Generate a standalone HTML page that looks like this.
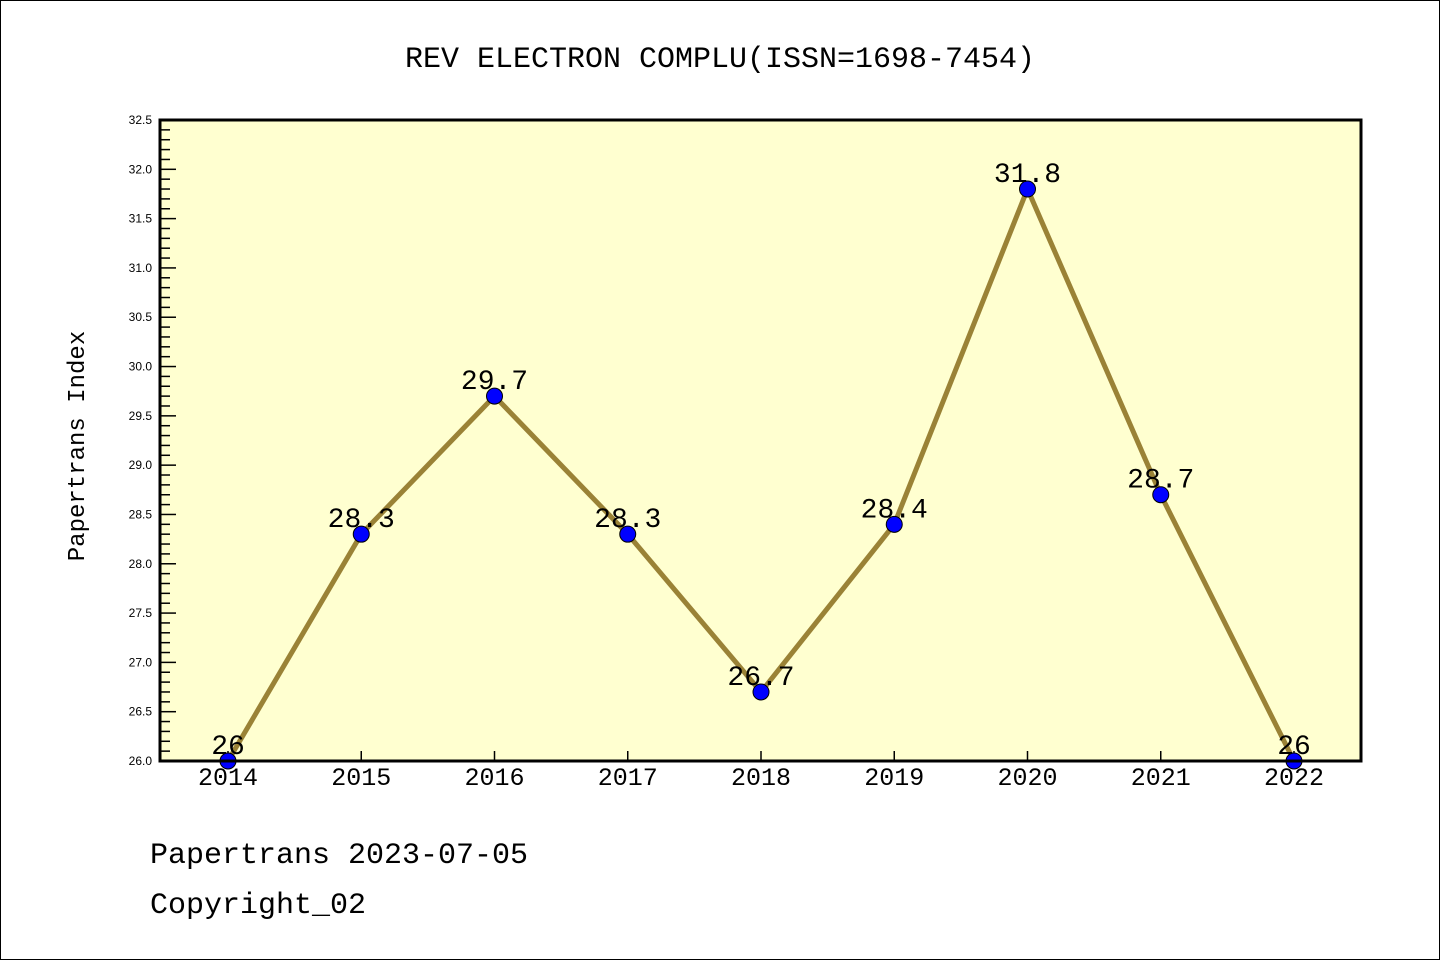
<!DOCTYPE html>
<html><head><meta charset="utf-8"><style>
body{margin:0;background:#fff;}
svg{display:block;font-family:"Liberation Mono","WenQuanYi Zen Hei",monospace;}
</style></head><body>
<svg id="c" width="1440" height="960">
<rect x="0.5" y="0.5" width="1439" height="959" fill="#fff" stroke="#000"/>
<text x="720" y="67" font-size="30" text-anchor="middle">REV ELECTRON COMPLU(ISSN=1698-7454)</text>
<rect x="160" y="120" width="1201" height="641" fill="#ffffd0"/>
<g id="yt"></g><g id="xt"></g><g id="series"></g>
<rect x="160" y="120" width="1201" height="641" fill="none" stroke="#000" stroke-width="3"/>
<text transform="translate(84,446) rotate(-90)" font-size="24" text-anchor="middle">Papertrans Index</text>
<text x="150" y="863" font-size="30">Papertrans 2023-07-05</text>
<text x="150" y="913" font-size="30">Copyright_02</text>
</svg>
<script>
const years=["2014","2015","2016","2017","2018","2019","2020","2021","2022"];
const values=[26,28.3,29.7,28.3,26.7,28.4,31.8,28.7,26];
const valueLabels=["26","28.3","29.7","28.3","26.7","28.4","31.8","28.7","26"];
const yMin=26,yMax=32.5;
const NS="http://www.w3.org/2000/svg";
function X(i){return 228+i*(1294-228)/(years.length-1);}
function Y(v){return 761-(v-yMin)/(yMax-yMin)*641;}
function mk(t,a,p){const e=document.createElementNS(NS,t);for(const k in a)e.setAttribute(k,a[k]);p.appendChild(e);return e;}
const yt=document.getElementById('yt'),xt=document.getElementById('xt'),sg=document.getElementById('series');
for(let k=0;k<=65;k++){const v=yMin+k*0.1,y=Y(v),maj=k%5==0;
 const l=mk('line',{x1:160,x2:maj?176:170,y1:y,y2:y,stroke:'#000','stroke-width':1.5},yt);
 
 
 if(maj){const t=mk('text',{x:152,y:y+4,'font-size':12,'text-anchor':'end','font-family':'Liberation Sans, sans-serif'},yt);t.textContent=v.toFixed(1);
 
 }}
years.forEach((yr,i)=>{const x=X(i);
 const l=mk('line',{x1:x,x2:x,y1:761,y2:751,stroke:'#000','stroke-width':1.5},xt);
 
 
 const t=mk('text',{x:x,y:785,'font-size':25,'text-anchor':'middle'},xt);t.textContent=yr;
 
 });
const pl=mk('polyline',{points:values.map((v,i)=>X(i)+','+Y(v)).join(' '),fill:'none',stroke:'#9a8236','stroke-width':5},sg);


values.forEach((v,i)=>{
 const c=mk('circle',{cx:X(i),cy:Y(v),r:8,fill:'#0000ff',stroke:'#000','stroke-width':1},sg);
 
 
 const t=mk('text',{x:X(i),y:Y(v)-7,'font-size':28,'text-anchor':'middle'},sg);t.textContent=valueLabels[i];
 
 });
</script>
</body></html>
